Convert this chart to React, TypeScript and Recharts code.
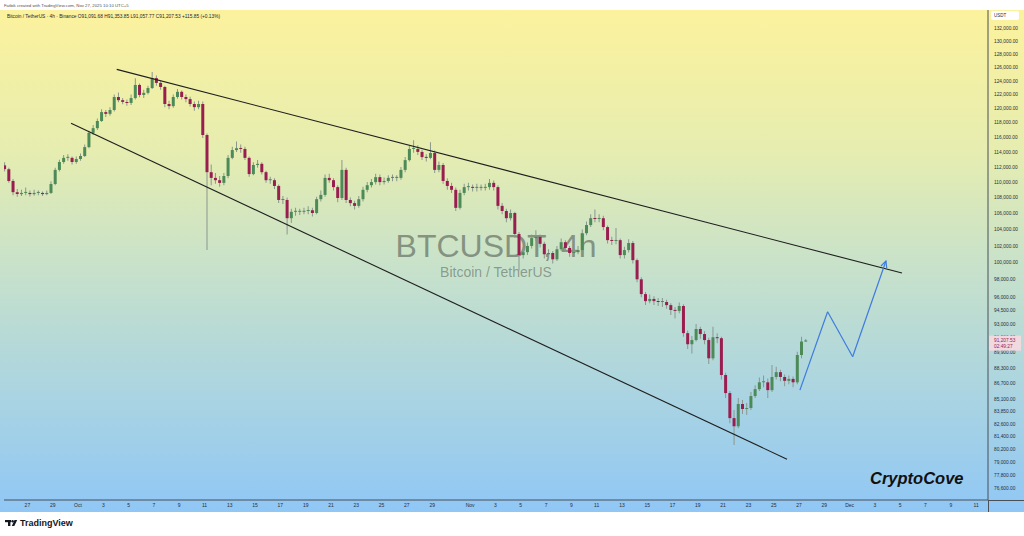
import React from "react";
import { ComposedChart, Bar, XAxis, YAxis, ReferenceLine, Cell } from "recharts";

const FONT = "'Liberation Sans', Arial, sans-serif";

// 8h candles starting Sep 25 00:00; days are counted from Oct 1 (day 0)
const firstDay = -6;
const candleDays = 1 / 3;
const firstOpen = 112200;

const closes = [
  111700, 110150, 108700, 108450, 108600, 108600, 108450, 108600, 108600, 108450,
  108600, 109750, 111600, 112650, 113200, 113200, 112650, 113050, 113450, 114650,
  116600, 117250, 118250, 119500, 119250, 119800, 121650, 121200, 120950, 120800,
  121500, 123400, 121950, 122250, 122950, 124400, 123700, 123100, 120650, 120350,
  121650, 122400, 121650, 121350, 120650, 120200, 120650, 116300, 111300, 110550,
  110250, 109900, 110800, 113200, 114250, 114500, 114400, 113200, 111050, 112250,
  112400, 111300, 110250, 110250, 109500, 107700, 107700, 105400, 106200, 106200,
  106200, 106300, 106400, 106050, 107800, 108350, 110550, 110250, 109350, 107950,
  111600, 107700, 107300, 106950, 107800, 109000, 109600, 110000, 110650, 110000,
  110150, 110550, 110550, 110550, 111600, 112900, 114400, 114400, 114000, 113300,
  113200, 113850, 111600, 112250, 110150, 109500, 109000, 106700, 108600, 109350,
  109350, 109250, 109250, 109250, 109350, 109900, 109350, 106950, 106300, 105400,
  106050, 103450, 100900, 101250, 102000, 102950, 103100, 102250, 101000, 101150,
  100400, 101600, 102450, 101750, 101150, 101250, 101500, 103550, 104550, 105400,
  105300, 105400, 104300, 102700, 102600, 102700, 100900, 101500, 102350, 100300,
  98050, 96350, 95550, 95800, 95550, 95450, 95450, 95100, 94550, 94450,
  95000, 92000, 90800, 91250, 92450, 91900, 91250, 89300, 91550, 91450,
  87550, 85700, 83200, 82400, 84600, 84100, 84200, 85400, 86100, 86800,
  86800, 86000, 87350, 87850, 87350, 86950, 87150, 86800, 89650, 91090,
  91207.53,
];

const highs = [
  112600, 111900, 110400, 109100, 109000, 109300, 108900, 109000, 108900, 108800,
  108900, 110100, 111900, 112950, 113600, 113700, 113400, 113400, 113800, 115000,
  116900, 117700, 118600, 119900, 119800, 120200, 122000, 122300, 121500, 121300,
  122000, 124400, 123600, 122700, 123300, 125300, 124800, 124000, 123300, 121100,
  122000, 122800, 122600, 122000, 121700, 121000, 121100, 121000, 116500, 112300,
  111200, 110800, 111200, 113600, 114700, 115400, 115000, 114700, 113400, 112600,
  112900, 112600, 111500, 110700, 110500, 109700, 108200, 108000, 106600, 106700,
  106600, 106700, 106900, 106700, 108100, 108900, 111000, 111100, 110500, 109600,
  112900, 111900, 108000, 107600, 108200, 109400, 110000, 110400, 111100, 111000,
  110600, 110900, 111000, 110900, 112000, 113300, 114800, 115600, 114900, 114300,
  113700, 115300, 114200, 112700, 112500, 110500, 109900, 109300, 109000, 109800,
  109900, 109700, 109800, 109700, 109800, 110400, 110200, 109600, 107300, 106600,
  106500, 106200, 103700, 101800, 102400, 103400, 103900, 103400, 102500, 101600,
  101400, 102000, 102900, 102700, 102000, 101700, 102000, 104000, 105000, 105900,
  106500, 105900, 105700, 104500, 103100, 104200, 102900, 101900, 102800, 102600,
  100500, 98300, 96600, 96300, 96100, 95900, 95900, 95700, 95300, 94900,
  95400, 95200, 92300, 91700, 93000, 92700, 92200, 91500, 92700, 92000,
  91600, 87800, 85900, 84000, 85200, 85000, 84700, 85800, 86500, 87300,
  87500, 87200, 88600, 88400, 88100, 87600, 87500, 87400, 90000, 91600,
  91353.85,
];

const lows = [
  111400, 109900, 108300, 108100, 108200, 108300, 108150, 108250, 108300, 108200,
  108300, 108450, 109600, 111400, 112400, 112800, 112300, 112400, 112800, 113300,
  114500, 116300, 117000, 118100, 118800, 119000, 119600, 120900, 120600, 120400,
  120500, 121300, 121600, 121500, 122000, 122800, 123300, 122700, 120200, 119900,
  120100, 121400, 121300, 120900, 120300, 119700, 119900, 115900, 101500, 109600,
  109800, 109400, 109600, 110500, 113000, 114000, 113900, 112900, 110700, 110900,
  111900, 111000, 109900, 109800, 109100, 107300, 107200, 103400, 104800, 105700,
  105800, 105900, 105900, 105600, 105900, 107500, 108100, 109900, 108900, 107400,
  107700, 107300, 106900, 106500, 106700, 107500, 108700, 109300, 109700, 109600,
  109700, 109900, 110100, 110100, 110300, 111300, 112700, 113900, 113600, 112900,
  112700, 113000, 111200, 111300, 109800, 109000, 108600, 106300, 106500, 108300,
  108900, 108800, 108800, 108900, 108900, 109000, 108900, 106500, 105900, 104900,
  105100, 103000, 99100, 100500, 100900, 101700, 102600, 101800, 100500, 100600,
  99900, 100200, 101400, 101300, 100700, 100800, 101000, 101300, 103300, 104300,
  104900, 104900, 103900, 102300, 102100, 102200, 100500, 100500, 101200, 99900,
  97700, 96000, 95100, 95300, 95100, 95000, 94900, 94700, 94000, 93600,
  94200, 91600, 90300, 89800, 91100, 91400, 90800, 88700, 89100, 90900,
  87100, 85200, 82700, 80600, 82200, 83600, 83500, 84000, 85200, 85900,
  86300, 85200, 85800, 87100, 86900, 86400, 86600, 86300, 86600, 89300,
  91057.77,
];

const priceTicks = [
  134000, 132000, 130000, 128000, 126000, 124000, 122000, 120000, 118000, 116000,
  114000, 112000, 110000, 108000, 106000, 104000, 102000, 100000, 98000, 96000,
  94500, 93000, 91500, 89900, 88300, 86700, 85100, 83850, 82600, 81400,
  80200, 79000, 77800, 76600,
];

const dayTicks = [
  -4, -2, 0, 2, 4, 6, 8, 10, 12, 14, 16, 18, 20, 22, 24, 26, 28,
  31, 33, 35, 37, 39, 41, 43, 45, 47, 49, 51, 53, 55, 57, 59,
  61, 63, 65, 67, 69, 71,
];
const dayLabels = [
  "27", "29", "Oct", "3", "5", "7", "9", "11", "13", "15", "17", "19", "21", "23", "25", "27", "29",
  "Nov", "3", "5", "7", "9", "11", "13", "15", "17", "19", "21", "23", "25", "27", "29",
  "Dec", "3", "5", "7", "9", "11",
];

// drawings (day, price)
const upperTrend = [{ t: 3.06, p: 125700 }, { t: 65.14, p: 98780 }];
const lowerTrend = [{ t: -0.55, p: 117920 }, { t: 56.05, p: 79250 }];
const projection = [
  { t: 57.07, p: 86000 },
  { t: 59.26, p: 94360 },
  { t: 61.24, p: 89470 },
  { t: 63.87, p: 100190 },
];

const lastPrice = 91207.53;
const countdown = "02:49:27";

const candles = closes.map((c, i) => {
  const o = i === 0 ? firstOpen : closes[i - 1];
  return {
    t: firstDay + (i + 0.5) * candleDays,
    o,
    c,
    wick: [lows[i], highs[i]],
    body: [Math.min(o, c), Math.max(o, c)],
  };
});

const UP = "#4c8a57";
const DOWN = "#9a1d4f";
const WICK = "#8a978f";
const AXIS = "#4a4f58";
const X_DOMAIN = [-5.85, 71.94];
const Y_DOMAIN = [75517, 134843];

const fmtPrice = (v: number) =>
  v.toLocaleString("en-US", { minimumFractionDigits: 2, maximumFractionDigits: 2 });

const ArrowLine = (props: any) => {
  const { x1, y1, x2, y2 } = props;
  const a = Math.atan2(y2 - y1, x2 - x1);
  const len = 7;
  const l = [x2 - len * Math.cos(a - 0.45), y2 - len * Math.sin(a - 0.45)];
  const r = [x2 - len * Math.cos(a + 0.45), y2 - len * Math.sin(a + 0.45)];
  return (
    <g>
      <line x1={x1} y1={y1} x2={x2} y2={y2} stroke="#3d7be0" strokeWidth={1.2} />
      <polyline points={`${l[0]},${l[1]} ${x2},${y2} ${r[0]},${r[1]}`} fill="none" stroke="#3d7be0" strokeWidth={1.2} />
    </g>
  );
};

// price tag drawn by a 1px wide axis on top of the price scale
const PriceTagTick = (props: any) => {
  const { x, y } = props;
  const left = x - 34;
  return (
    <g>
      <rect x={left} y={y - 4.8} width={32} height={15} fill="#f1d9e0" />
      <text x={left + 5} y={y + 1.7} fontSize={4.8} fill="#9a1d4f" fontFamily={FONT}>
        {fmtPrice(lastPrice)}
      </text>
      <text x={left + 5} y={y + 8} fontSize={4.8} fill="#9a1d4f" fontFamily={FONT}>
        {countdown}
      </text>
    </g>
  );
};

export default function App() {
  return (
    <div style={{ position: "relative", width: 1024, height: 536, background: "#fff", overflow: "hidden", fontFamily: FONT }}>
      <style>{"body{margin:0}"}</style>
      <div
        style={{
          position: "absolute",
          left: 0,
          top: 10,
          width: 1024,
          height: 502,
          background: "linear-gradient(180deg, #fcf29d 0%, #e6edb0 28%, #c9e2c9 50%, #acd5e0 75%, #90c7f5 100%)",
        }}
      />
      <svg width={1024} height={536} style={{ position: "absolute", left: 0, top: 0 }}>
        <text x={496} y={257} textAnchor="middle" fontSize={32} fill="rgba(60,66,60,0.5)" fontFamily={FONT}>
          BTCUSDT, 4h
        </text>
        <text x={496} y={277} textAnchor="middle" fontSize={14} fill="rgba(60,66,60,0.45)" fontFamily={FONT}>
          Bitcoin / TetherUS
        </text>
      </svg>
      <div style={{ position: "absolute", left: 0, top: 0 }}>
        <ComposedChart width={1024} height={512} data={candles} margin={{ top: 10, right: 0, bottom: 0, left: 4 }}>
          <XAxis
            xAxisId="w"
            type="number"
            dataKey="t"
            domain={X_DOMAIN}
            allowDataOverflow
            ticks={dayTicks}
            interval={0}
            tickFormatter={(v: number) => dayLabels[dayTicks.indexOf(v)] ?? ""}
            height={12}
            tickLine={false}
            tickSize={0}
            tickMargin={3}
            axisLine={{ stroke: AXIS }}
            tick={{ fontSize: 5, fill: "#2a2e39", fontFamily: FONT }}
          />
          <XAxis xAxisId="b" type="number" dataKey="t" domain={X_DOMAIN} allowDataOverflow hide height={0} />
          <YAxis
            yAxisId="p"
            orientation="right"
            scale="log"
            domain={Y_DOMAIN}
            allowDataOverflow
            ticks={priceTicks}
            interval={0}
            width={35}
            tickLine={false}
            tickSize={0}
            tickMargin={6}
            axisLine={{ stroke: AXIS }}
            tick={{ fontSize: 4.8, fill: "#2a2e39", fontFamily: FONT }}
            tickFormatter={fmtPrice}
          />
          <YAxis
            yAxisId="tag"
            orientation="right"
            scale="log"
            domain={Y_DOMAIN}
            allowDataOverflow
            ticks={[lastPrice]}
            interval={0}
            width={1}
            tickLine={false}
            tickSize={0}
            tickMargin={0}
            axisLine={false}
            tick={PriceTagTick}
          />
          <Bar xAxisId="w" yAxisId="p" dataKey="wick" barSize={1} isAnimationActive={false}>
            {candles.map((d, i) => (
              <Cell key={`w-${i}`} fill={WICK} />
            ))}
          </Bar>
          <Bar xAxisId="b" yAxisId="p" dataKey="body" barSize={3} minPointSize={1} isAnimationActive={false}>
            {candles.map((d, i) => (
              <Cell key={`b-${i}`} fill={d.c >= d.o ? UP : DOWN} />
            ))}
          </Bar>
          <ReferenceLine
            xAxisId="w"
            yAxisId="p"
            segment={upperTrend.map((d) => ({ x: d.t, y: d.p }))}
            stroke="#1e1e1e"
            strokeWidth={1.1}
            ifOverflow="visible"
          />
          <ReferenceLine
            xAxisId="w"
            yAxisId="p"
            segment={lowerTrend.map((d) => ({ x: d.t, y: d.p }))}
            stroke="#1e1e1e"
            strokeWidth={1.1}
            ifOverflow="visible"
          />
          {projection.slice(0, -1).map((d, i) => {
            const n = projection[i + 1];
            const last = i === projection.length - 2;
            return (
              <ReferenceLine
                key={`p-${i}`}
                xAxisId="w"
                yAxisId="p"
                segment={[{ x: d.t, y: d.p }, { x: n.t, y: n.p }]}
                stroke="#3d7be0"
                strokeWidth={1.2}
                ifOverflow="visible"
                shape={last ? ArrowLine : undefined}
              />
            );
          })}
        </ComposedChart>
      </div>
      <svg width={1024} height={536} style={{ position: "absolute", left: 0, top: 0 }}>
        <text x={4} y={6.5} fontSize={4.3} fill="#505050" fontFamily={FONT}>
          Fatbik created with TradingView.com, Nov 27, 2025 10:10 UTC+5
        </text>
        <text x={7} y={18.3} fontSize={4.8} fill="#1f2430" fontFamily={FONT}>
          Bitcoin / TetherUS · 4h · Binance{"  "}O91,091.68{"  "}H91,353.85{"  "}L91,057.77{"  "}C91,207.53{"  "}+115.85 (+0.13%)
        </text>
        <rect x={991} y={11} width={28} height={9} rx={2} fill="#ffffff" />
        <text x={994} y={17.3} fontSize={4.5} fill="#2a2e39" fontFamily={FONT}>
          USDT
        </text>
        <line x1={988.5} y1={500} x2={988.5} y2={512} stroke={AXIS} />
        <line x1={988} y1={500.5} x2={1024} y2={500.5} stroke={AXIS} />
        <text x={870} y={484} fontSize={16.5} fontWeight="bold" fontStyle="italic" fill="#111" fontFamily={FONT}>
          CryptoCove
        </text>
        <g fill="#131722">
          <rect x={5} y={520} width={6} height={2.2} />
          <rect x={8} y={520} width={2.4} height={6} />
          <circle cx={12.6} cy={521.2} r={1.2} />
          <polygon points="14.5,520 17.2,520 14.3,526 11.8,526" />
        </g>
        <text x={20} y={526} fontSize={9} fontWeight="600" fill="#131722" fontFamily={FONT}>
          TradingView
        </text>
      </svg>
    </div>
  );
}
